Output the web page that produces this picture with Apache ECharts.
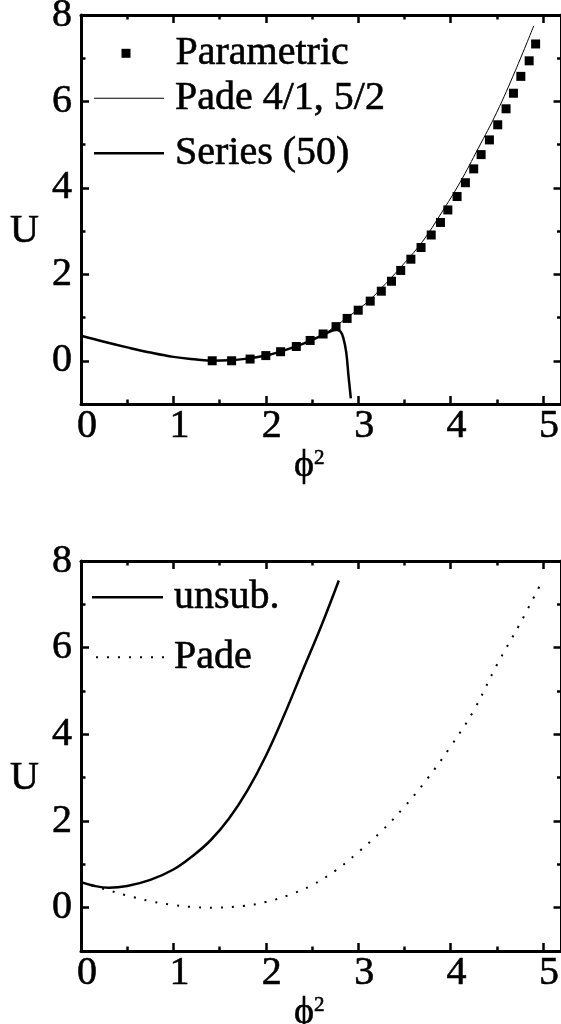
<!DOCTYPE html>
<html>
<head>
<meta charset="utf-8">
<script src="https://cdn.jsdelivr.net/npm/echarts@6/dist/echarts.min.js"></script>
<style>
html, body { margin: 0; padding: 0; background: #fff; }
#main { width: 561px; height: 1024px; }
</style>
</head>
<body>
<div id="main"></div>
<script>
/* ---------- upper panel ---------- */
var paramX = [1.42, 1.63, 1.83, 2.0, 2.16, 2.33, 2.48, 2.62, 2.76, 2.88, 3.0, 3.13, 3.25, 3.36, 3.46, 3.57,
              3.68, 3.79, 3.89, 3.97, 4.07, 4.16, 4.25, 4.33, 4.42, 4.51, 4.60, 4.68, 4.76, 4.85, 4.92];
var paramU = [0.0, 0.0, 0.04, 0.12, 0.21, 0.33, 0.47, 0.62, 0.79, 0.98, 1.17, 1.38, 1.61, 1.84, 2.09, 2.35,
              2.62, 2.91, 3.20, 3.49, 3.80, 4.12, 4.44, 4.77, 5.11, 5.46, 5.83, 6.19, 6.58, 6.94, 7.33];

var padeTopX = [2.65, 2.9, 3.1, 3.3, 3.5, 3.7, 3.9, 4.1, 4.3, 4.5, 4.7, 4.9];
var padeTopU = [0.64, 1.03, 1.36, 1.79, 2.26, 2.77, 3.42, 4.12, 4.92, 5.75, 6.71, 7.75];

var seriesX = [0, 0.25, 0.5, 0.75, 1.0, 1.25, 1.42, 1.6, 1.8, 2.0, 2.2, 2.4, 2.55, 2.65, 2.72, 2.77, 2.81, 2.84, 2.87, 2.895, 2.92];
var seriesU = [0.58, 0.44, 0.31, 0.19, 0.09, 0.03, 0.0, 0.01, 0.05, 0.12, 0.24, 0.39, 0.53, 0.63, 0.70, 0.72, 0.67, 0.52, 0.2, -0.35, -0.87];

/* ---------- lower panel ---------- */
var unsubX = [0, 0.15, 0.3, 0.5, 0.75, 1.0, 1.2, 1.4, 1.6, 1.8, 2.0, 2.2, 2.4, 2.6, 2.79];
var unsubU = [0.59, 0.50, 0.46, 0.50, 0.64, 0.88, 1.18, 1.55, 2.05, 2.7, 3.5, 4.45, 5.48, 6.5, 7.55];

var padeX = [0, 0.25, 0.5, 0.75, 1.0, 1.25, 1.45, 1.75, 2.0, 2.25, 2.5, 2.75, 3.0, 3.25, 3.5, 3.75, 4.0, 4.25, 4.5, 4.75, 4.97];
var padeU = [0.59, 0.43, 0.28, 0.15, 0.06, 0.01, 0.0, 0.04, 0.13, 0.29, 0.52, 0.85, 1.28, 1.76, 2.33, 2.98, 3.72, 4.55, 5.6, 6.55, 7.45];

/* ticks */
var xMajor = [0, 1, 2, 3, 4, 5];
var xMinor = [0.5, 1.5, 2.5, 3.5, 4.5];
var yMajor = [0, 2, 4, 6, 8];
var yMinor = [1, 3, 5, 7];

var font = 'Liberation Serif';
var fs = 40;
// slight outline to thicken the serif strokes
var txt = { fontSize: fs, fontFamily: font, color: '#000', textBorderColor: '#000', textBorderWidth: 0.6 };

function pairs(xs, ys) {
    return xs.map(function (x, i) { return [x, ys[i]]; });
}

function tick(vals, len) {
    return { show: true, inside: true, length: len, customValues: vals, lineStyle: { color: '#000', width: 2.5 } };
}

// 4 x axes per grid: bottom major (labels), bottom minor, top major, top minor
function xAxes(g) {
    var base = { gridIndex: g, type: 'value', min: 0, max: 5.2, splitLine: { show: false } };
    return [
        Object.assign({}, base, {
            position: 'bottom',
            axisLine: { show: true, onZero: false, lineStyle: { color: '#000', width: 3 } },
            axisTick: tick(xMajor, 8),
            axisLabel: Object.assign({ show: true, customValues: xMajor, margin: 2, padding: [0, 0, 0, 12] }, txt),
            name: 'ϕ{s|2}',
            nameLocation: 'middle',
            nameGap: 40,
            nameTextStyle: Object.assign({}, txt, {
                fontSize: 38, padding: [0, 24, 0, 0],
                rich: { s: { fontSize: 21, fontFamily: font, color: '#000', verticalAlign: 'top', padding: [0, 0, 14, 0] } }
            })
        }),
        Object.assign({}, base, { position: 'bottom', axisLine: { show: false, onZero: false }, axisTick: tick(xMinor, 4.5), axisLabel: { show: false } }),
        Object.assign({}, base, {
            position: 'top',
            axisLine: { show: true, onZero: false, lineStyle: { color: '#000', width: 3 } },
            axisTick: tick(xMajor, 8), axisLabel: { show: false }
        }),
        Object.assign({}, base, { position: 'top', axisLine: { show: false, onZero: false }, axisTick: tick(xMinor, 4.5), axisLabel: { show: false } })
    ];
}

function yAxes(g) {
    var base = { gridIndex: g, type: 'value', min: -1, max: 8, splitLine: { show: false } };
    return [
        Object.assign({}, base, {
            position: 'left',
            axisLine: { show: true, onZero: false, lineStyle: { color: '#000', width: 3 } },
            axisTick: tick(yMajor, 8),
            axisLabel: Object.assign({ show: true, customValues: yMajor, margin: 9 }, txt),
            name: 'U',
            nameLocation: 'middle',
            nameRotate: 0,
            nameGap: 42,
            nameTextStyle: Object.assign({}, txt, { verticalAlign: 'top', lineHeight: 44 })
        }),
        Object.assign({}, base, { position: 'left', axisLine: { show: false, onZero: false }, axisTick: tick(yMinor, 4.5), axisLabel: { show: false } }),
        Object.assign({}, base, {
            position: 'right',
            axisLine: { show: true, onZero: false, lineStyle: { color: '#000', width: 3 } },
            axisTick: tick(yMajor, 8), axisLabel: { show: false }
        }),
        Object.assign({}, base, { position: 'right', axisLine: { show: false, onZero: false }, axisTick: tick(yMinor, 4.5), axisLabel: { show: false } })
    ];
}

// legend icons drawn as plain paths: thin line, thick line, dotted line
var iconThin = 'path://M0,0L70,0L70,1L0,1Z';
var iconThick = 'path://M0,0L70,0L70,2.5L0,2.5Z';
var iconDots = 'path://M0,0h2v2h-2zM11,0h2v2h-2zM22,0h2v2h-2zM33,0h2v2h-2zM44,0h2v2h-2zM55,0h2v2h-2zM66,0h2v2h-2z';

function legendItem(name, left, cy, w, h, pad, icon) {
    return {
        data: [{ name: name, icon: icon }],
        left: left, top: cy - 20,
        padding: 0,
        itemWidth: w, itemHeight: h,
        selectedMode: false,
        textStyle: Object.assign({}, txt, { lineHeight: 40, padding: [0, 0, 0, pad] })
    };
}

var dom = document.getElementById('main');
var myChart = echarts.init(dom, null, { renderer: 'canvas' });

var option = {
    animation: false,
    backgroundColor: '#fff',
    grid: [
        { left: 81, top: 15, width: 480.5, height: 389, outerBoundsMode: 'none' },
        { left: 81, top: 561, width: 480.5, height: 390, outerBoundsMode: 'none' }
    ],
    legend: [
        legendItem('Parametric', 121.5, 53, 9, 9, 40, 'rect'),
        legendItem('Pade 4/1, 5/2', 94, 98, 70, 1, 6, iconThin),
        legendItem('Series (50)', 94, 153, 70, 2.5, 6, iconThick),
        legendItem('unsub.', 92, 597, 71, 2.5, 6, 'path://M0,0L71,0L71,2.5L0,2.5Z'),
        legendItem('Pade', 96, 657, 68, 2, 5, iconDots)
    ],
    xAxis: xAxes(0).concat(xAxes(1)),
    yAxis: yAxes(0).concat(yAxes(1)),
    series: [
        {
            name: 'Parametric', type: 'scatter', xAxisIndex: 0, yAxisIndex: 0,
            symbol: 'rect', symbolSize: 9, itemStyle: { color: '#000', opacity: 1 },
            data: pairs(paramX, paramU)
        },
        {
            name: 'Pade 4/1, 5/2', type: 'line', xAxisIndex: 0, yAxisIndex: 0,
            smooth: 0.4, symbol: 'none',
            itemStyle: { color: '#000' }, lineStyle: { color: '#000', width: 1 },
            data: pairs(padeTopX, padeTopU)
        },
        {
            name: 'Series (50)', type: 'line', xAxisIndex: 0, yAxisIndex: 0,
            smooth: 0.4, symbol: 'none',
            itemStyle: { color: '#000' }, lineStyle: { color: '#000', width: 2.5 },
            data: pairs(seriesX, seriesU)
        },
        {
            name: 'unsub.', type: 'line', xAxisIndex: 4, yAxisIndex: 4,
            smooth: 0.4, symbol: 'none',
            itemStyle: { color: '#000' }, lineStyle: { color: '#000', width: 2.5 },
            data: pairs(unsubX, unsubU)
        },
        {
            name: 'Pade', type: 'line', xAxisIndex: 4, yAxisIndex: 4,
            smooth: 0.4, symbol: 'none',
            itemStyle: { color: '#000' }, lineStyle: { color: '#000', width: 2, type: [2, 9] },
            data: pairs(padeX, padeU)
        }
    ]
};

if (option && typeof option === "object") {
    myChart.setOption(option, true);
}
</script>
</body>
</html>
